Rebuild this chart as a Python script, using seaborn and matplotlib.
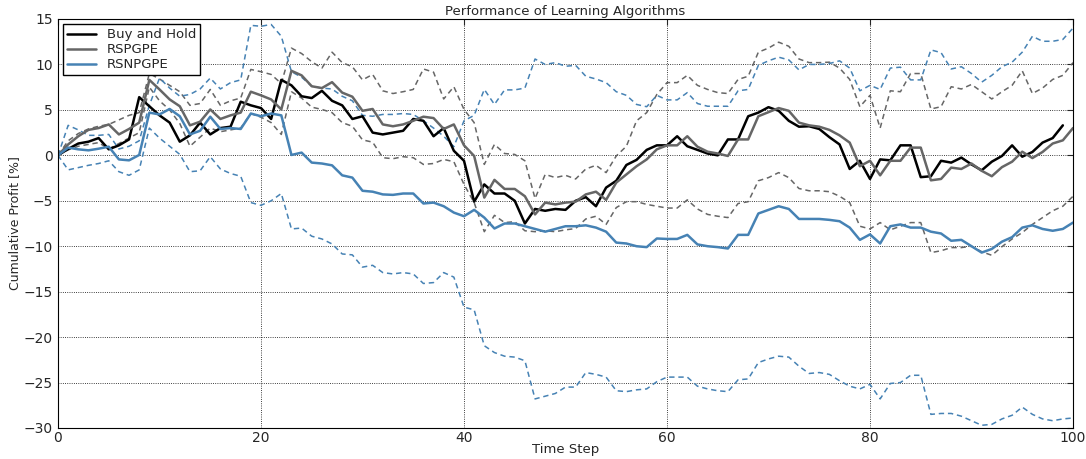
import numpy as np
import pandas as pd
import matplotlib
matplotlib.use("Agg")
import matplotlib.pyplot as plt
import seaborn as sns

buy_hold = [0, 0.7, 1.3, 1.5, 1.9, 0.66, 1.1, 1.75, 6.4, 5.4,
            4.4, 3.6, 1.5, 2.2, 3.6, 2.3, 3.0, 3.15, 5.9, 5.5,
            5.2, 4.0, 8.3, 7.7, 6.5, 6.3, 7.1, 6.0, 5.5, 4.0,
            4.3, 2.5, 2.3, 2.5, 2.7, 4.0, 3.8, 2.1, 3.0, 0.5,
            -0.6, -5.1, -3.2, -4.2, -4.2, -5.0, -7.5, -5.9, -6.1, -5.9,
            -6.0, -5.0, -4.6, -5.6, -3.55, -2.8, -1.06, -0.5, 0.6, 1.1,
            1.1, 2.1, 1.0, 0.6, 0.2, 0.0, 1.75, 1.75, 4.3, 4.7,
            5.3, 4.9, 3.8, 3.15, 3.2, 2.9, 2.0, 1.2, -1.5, -0.6,
            -2.6, -0.45, -0.55, 1.1, 1.1, -2.4, -2.3, -0.6, -0.8, -0.25,
            -1.0, -1.65, -0.7, -0.07, 1.1, -0.15, 0.37, 1.4, 1.9, 3.3]

rspgpe = [0, 1.2, 2.1, 2.8, 3.0, 3.4, 2.3, 2.9, 3.6, 8.3,
          7.25, 6.15, 5.4, 3.3, 3.7, 5.05, 4.0, 4.4, 4.7, 7.0,
          6.6, 6.15, 5.05, 9.3, 8.8, 7.6, 7.4, 8.05, 6.9, 6.45,
          4.9, 5.1, 3.4, 3.2, 3.4, 3.8, 4.25, 4.1, 2.9, 3.4,
          1.1, -0.07, -4.65, -2.7, -3.7, -3.7, -4.5, -6.5, -5.2, -5.4,
          -5.2, -5.1, -4.3, -4.0, -4.9, -3.0, -2.1, -1.2, -0.45, 0.66,
          1.1, 1.1, 2.1, 0.95, 0.4, 0.2, -0.07, 1.75, 1.75, 4.3,
          4.75, 5.2, 4.9, 3.6, 3.3, 3.15, 2.8, 2.2, 1.4, -1.2,
          -0.6, -2.2, -0.6, -0.6, 0.85, 0.85, -2.75, -2.6, -1.35, -1.5,
          -0.9, -1.7, -2.3, -1.3, -0.7, 0.4, -0.3, 0.37, 1.3, 1.65,
          3.0]

rspgpe_upper = [0, 1.6, 2.4, 2.9, 3.2, 3.4, 3.9, 4.4, 4.7, 9.0,
                8.4, 7.7, 7.0, 5.5, 5.7, 7.25, 5.5, 6.0, 6.3, 9.45,
                9.2, 8.9, 7.9, 11.8, 11.2, 10.3, 9.6, 11.35, 10.2, 9.75,
                8.3, 8.9, 7.1, 6.8, 7.0, 7.25, 9.5, 9.15, 6.2, 7.55,
                5.05, 3.6, -1.0, 1.2, 0.2, 0.1, -0.6, -4.75, -2.1, -2.45,
                -2.2, -2.6, -1.5, -1.1, -1.9, -0.07, 1.0, 3.8, 4.7, 6.7,
                8.0, 8.0, 8.8, 7.7, 7.25, 6.9, 6.8, 8.35, 8.7, 11.35,
                11.8, 12.45, 12.0, 10.6, 10.2, 10.2, 10.25, 9.6, 8.35, 5.35,
                6.6, 3.0, 7.1, 7.0, 9.0, 9.0, 5.1, 5.35, 7.55, 7.3,
                7.8, 7.0, 6.2, 7.0, 7.7, 9.3, 6.8, 7.4, 8.35, 8.8,
                10.2]

rspgpe_lower = [0, 0.6, 1.0, 1.2, 1.4, 0.7, 1.3, 1.9, 2.5, 7.5,
                6.0, 5.0, 3.5, 1.0, 2.0, 3.0, 2.6, 2.8, 3.0, 4.6,
                4.2, 3.6, 2.3, 7.0, 6.3, 5.3, 5.05, 4.7, 3.6, 3.2,
                1.7, 1.45, -0.26, -0.37, -0.15, -0.26, -1.0, -0.9, -0.45, -0.7,
                -3.2, -5.2, -8.4, -6.6, -7.4, -7.3, -8.3, -8.4, -8.3, -8.4,
                -8.2, -8.05, -7.0, -6.7, -7.6, -5.75, -5.1, -5.1, -5.4, -5.6,
                -5.8, -5.8, -4.9, -5.9, -6.5, -6.7, -6.85, -5.3, -5.1, -2.8,
                -2.45, -1.9, -2.45, -3.65, -3.9, -3.9, -4.0, -4.5, -5.2, -7.8,
                -8.1, -7.4, -8.2, -7.8, -7.4, -7.4, -10.7, -10.5, -10.15, -10.15,
                -10.0, -10.6, -11.0, -10.05, -9.2, -8.5, -7.6, -6.85, -6.1, -5.6,
                -4.5]

rsnpgpe = [0, 0.85, 0.66, 0.55, 0.73, 0.95, -0.45, -0.55, 0.04, 4.7,
           4.5, 5.1, 4.3, 2.3, 2.7, 4.25, 2.9, 3.0, 2.9, 4.6,
           4.3, 4.6, 4.4, 0.04, 0.3, -0.8, -0.9, -1.1, -2.2, -2.45,
           -3.9, -4.0, -4.3, -4.35, -4.2, -4.2, -5.3, -5.2, -5.6, -6.3,
           -6.7, -6.0, -6.85, -8.05, -7.5, -7.5, -7.8, -8.1, -8.4, -8.1,
           -7.8, -7.8, -7.7, -7.95, -8.4, -9.6, -9.7, -10.0, -10.1, -9.15,
           -9.2, -9.2, -8.75, -9.8, -10.0, -10.1, -10.25, -8.75, -8.75, -6.4,
           -6.0, -5.6, -5.9, -7.0, -7.0, -7.0, -7.1, -7.25, -7.95, -9.3,
           -8.7, -9.7, -7.8, -7.6, -7.95, -7.95, -8.4, -8.6, -9.4, -9.3,
           -10.0, -10.7, -10.3, -9.5, -9.0, -7.95, -7.7, -8.1, -8.3, -8.1,
           -7.4]

rsnpgpe_upper = [0, 3.3, 2.8, 2.2, 2.2, 2.3, 0.7, 1.0, 1.6, 5.5,
                 8.5, 7.4, 6.5, 6.7, 7.3, 8.5, 7.3, 8.0, 8.3, 14.3,
                 14.2, 14.4, 13.1, 9.2, 8.6, 7.6, 7.4, 7.3, 6.5, 6.0,
                 4.4, 4.3, 4.5, 4.5, 4.6, 4.5, 3.8, 3.0, 2.1, 0.95,
                 3.8, 4.4, 7.25, 5.6, 7.2, 7.2, 7.4, 10.6, 10.0, 10.2,
                 9.8, 9.9, 8.7, 8.4, 8.0, 7.0, 6.6, 5.6, 5.35, 6.6,
                 6.1, 6.1, 6.9, 5.7, 5.4, 5.4, 5.4, 7.1, 7.25, 9.9,
                 10.4, 10.8, 10.5, 9.4, 10.0, 10.0, 10.1, 10.4, 9.6, 7.1,
                 7.7, 7.25, 9.6, 9.7, 8.3, 8.3, 11.6, 11.3, 9.5, 9.75,
                 9.0, 8.05, 8.8, 9.75, 10.25, 11.35, 13.1, 12.55, 12.55, 12.75,
                 14.0]

rsnpgpe_lower = [0, -1.6, -1.35, -1.1, -0.9, -0.6, -1.8, -2.2, -1.6, 3.0,
                 1.9, 1.0, 0.1, -1.8, -1.7, -0.15, -1.5, -2.0, -2.3, -5.2,
                 -5.5, -5.0, -4.2, -8.1, -8.0, -8.9, -9.2, -9.75, -10.85, -10.95,
                 -12.3, -12.1, -12.9, -13.05, -12.9, -13.05, -14.1, -14.0, -12.9, -13.4,
                 -16.7, -17.0, -20.95, -21.7, -22.1, -22.2, -22.6, -26.8, -26.5, -26.2,
                 -25.5, -25.5, -23.9, -24.1, -24.4, -25.9, -26.0, -25.8, -25.7, -24.9,
                 -24.4, -24.4, -24.4, -25.4, -25.7, -25.9, -26.0, -24.7, -24.6, -22.8,
                 -22.4, -22.1, -22.2, -23.2, -24.0, -23.9, -24.1, -24.8, -25.4, -25.7,
                 -25.2, -26.8, -25.1, -25.0, -24.2, -24.2, -28.5, -28.4, -28.4, -28.7,
                 -29.2, -29.7, -29.6, -29.0, -28.6, -27.7, -28.5, -29.0, -29.2, -29.0,
                 -28.9]

labels = ["Buy and Hold", "RSPGPE", "RSNPGPE"]
title = "Performance of Learning Algorithms"
xlabel = "Time Step"
ylabel = "Cumulative Profit [%]"

sns.set_style("white", {
    "axes.edgecolor": "black",
    "axes.linewidth": 1.0,
    "xtick.direction": "in",
    "ytick.direction": "in",
})
plt.rcParams['font.family'] = ['DejaVu Sans']

fig = plt.figure(figsize=(10.86, 4.59), dpi=100)
ax = fig.add_axes([58/1086, 1-428/459, (1073-58)/1086, (428-19)/459])

BLACK = "#000000"
GRAY = "#666666"
BLUE = "#4682b4"

def steps(arr):
    return np.arange(len(arr))

for arr, col in [(rspgpe_upper, GRAY), (rspgpe_lower, GRAY),
                 (rsnpgpe_upper, BLUE), (rsnpgpe_lower, BLUE)]:
    sns.lineplot(x=steps(arr), y=arr, ax=ax, color=col, linewidth=1.1,
                 legend=False)
    ax.lines[-1].set_linestyle((0, (3.5, 2.5)))

for arr, col, lab in [(buy_hold, BLACK, labels[0]), (rspgpe, GRAY, labels[1]),
                      (rsnpgpe, BLUE, labels[2])]:
    sns.lineplot(x=steps(arr), y=arr, ax=ax, color=col, linewidth=1.8, label=lab)

ax.set_xlim(0, 100)
ax.set_ylim(-30, 15)
ax.set_xticks(np.arange(0, 101, 20))
ax.set_yticks(np.arange(-30, 16, 5))
ax.grid(True, color="black", linestyle=":", linewidth=0.6)
ax.tick_params(axis="both", which="both", direction="in", top=True, right=True,
               length=4, width=0.8, labelsize=10)
ax.tick_params(axis="x", pad=2)
ax.set_title(title, fontsize=9.5, pad=3)
ax.set_xlabel(xlabel, fontsize=9.5, labelpad=-1)
ax.set_ylabel(ylabel, fontsize=9, labelpad=2)

leg = ax.legend(loc="upper left", fontsize=9.5, frameon=True, fancybox=False,
                edgecolor="black", framealpha=1, handlelength=2.2,
                borderaxespad=0.4, labelspacing=0.15, borderpad=0.3)
leg.get_frame().set_linewidth(1.0)

fig.savefig("out.png", dpi=100)
